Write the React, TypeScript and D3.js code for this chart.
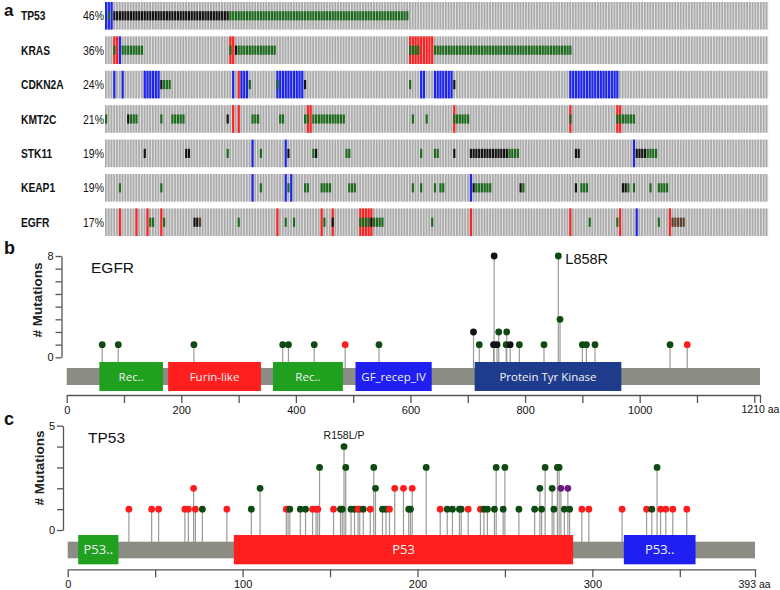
import React, { useRef, useEffect } from 'react';
import * as d3 from 'd3';

// ---- panel a: oncoprint ----
const nSamples = 240;
const genes = ['TP53', 'KRAS', 'CDKN2A', 'KMT2C', 'STK11', 'KEAP1', 'EGFR'];
const geneFreqs = ['46%', '36%', '24%', '21%', '19%', '19%', '17%'];

// runs of altered samples: [first sample, last sample, alteration]
type Run = [number, number, string];
const tp53Alt: Run[] = [[0, 2, 'homdel'], [1, 1, 'missense'], [3, 44, 'truncating'], [45, 109, 'missense']];
const krasAlt: Run[] = [
  [3, 4, 'amp'], [3, 3, 'missense'], [5, 5, 'homdel'], [6, 13, 'missense'],
  [45, 46, 'amp'], [45, 45, 'missense'], [47, 47, 'truncating'], [48, 61, 'missense'],
  [110, 118, 'amp'], [110, 113, 'missense'], [119, 168, 'missense'],
];
const cdkn2aAlt: Run[] = [
  [3, 3, 'homdel'], [6, 6, 'homdel'], [14, 19, 'homdel'], [20, 20, 'truncating'], [21, 23, 'missense'],
  [46, 46, 'homdel'], [48, 48, 'amp'], [49, 51, 'homdel'], [52, 52, 'missense'],
  [62, 71, 'homdel'], [62, 62, 'missense'], [72, 72, 'truncating'],
  [110, 110, 'missense'], [114, 115, 'homdel'], [119, 125, 'homdel'], [126, 126, 'truncating'],
  [168, 185, 'homdel'],
];
const kmt2cAlt: Run[] = [
  [0, 0, 'missense'], [8, 8, 'truncating'], [9, 11, 'missense'], [20, 20, 'missense'], [24, 28, 'missense'],
  [44, 44, 'truncating'], [46, 46, 'amp'], [48, 48, 'amp'], [53, 55, 'missense'], [63, 64, 'missense'],
  [72, 72, 'missense'], [73, 74, 'amp'], [73, 73, 'missense'], [75, 86, 'missense'],
  [111, 111, 'missense'], [116, 116, 'missense'], [126, 126, 'amp'], [126, 131, 'missense'],
  [168, 168, 'amp'], [168, 168, 'missense'], [185, 186, 'amp'], [185, 186, 'missense'], [187, 191, 'missense'],
];
const stk11Alt: Run[] = [
  [14, 14, 'truncating'], [29, 30, 'truncating'], [44, 44, 'missense'], [53, 53, 'homdel'],
  [56, 56, 'missense'], [65, 65, 'homdel'], [66, 66, 'truncating'], [75, 75, 'missense'],
  [76, 76, 'truncating'], [87, 88, 'missense'], [114, 114, 'missense'], [119, 120, 'missense'],
  [126, 126, 'truncating'], [132, 145, 'truncating'], [146, 149, 'missense'], [170, 171, 'truncating'],
  [191, 191, 'homdel'], [192, 195, 'truncating'], [196, 199, 'missense'],
];
const keap1Alt: Run[] = [
  [5, 5, 'missense'], [20, 20, 'missense'], [53, 53, 'homdel'], [56, 56, 'missense'],
  [65, 65, 'homdel'], [66, 66, 'missense'], [67, 67, 'homdel'], [72, 73, 'missense'],
  [78, 81, 'missense'], [88, 90, 'missense'], [111, 111, 'missense'], [114, 114, 'missense'],
  [119, 119, 'missense'], [121, 122, 'missense'], [132, 132, 'homdel'], [133, 133, 'truncating'],
  [134, 139, 'missense'], [150, 150, 'truncating'], [151, 151, 'missense'], [170, 170, 'truncating'],
  [172, 174, 'missense'], [187, 188, 'truncating'], [189, 189, 'missense'], [191, 191, 'missense'],
  [197, 197, 'missense'], [200, 203, 'missense'],
];
const egfrAlt: Run[] = [
  [5, 5, 'amp'], [11, 11, 'amp'], [15, 15, 'amp'], [16, 17, 'missense'], [20, 20, 'amp'],
  [21, 21, 'missense'], [32, 33, 'truncating'], [34, 34, 'inframe'], [48, 48, 'missense'],
  [62, 62, 'amp'], [65, 65, 'missense'], [68, 68, 'missense'], [78, 78, 'amp'], [79, 79, 'missense'],
  [82, 82, 'amp'], [82, 82, 'truncating'], [92, 96, 'amp'], [92, 95, 'missense'], [96, 96, 'truncating'],
  [97, 100, 'missense'], [118, 118, 'missense'], [132, 132, 'amp'], [168, 168, 'amp'],
  [175, 175, 'missense'], [185, 185, 'missense'], [186, 186, 'amp'], [192, 192, 'homdel'],
  [200, 200, 'missense'], [204, 204, 'amp'], [205, 209, 'inframe'],
];
const alterations = [tp53Alt, krasAlt, cdkn2aAlt, kmt2cAlt, stk11Alt, keap1Alt, egfrAlt];

// ---- panels b / c: lollipops, [aa position, # mutations, type] ----
type Mut = [number, number, string];
const egfrMutations: Mut[] = [
  [62, 1, 'missense'], [90, 1, 'missense'], [222, 1, 'missense'], [377, 1, 'missense'],
  [387, 1, 'missense'], [432, 1, 'missense'], [486, 1, 'truncating'], [545, 1, 'missense'],
  [710, 2, 'inframe'], [720, 1, 'missense'], [745, 1, 'inframe'], [746, 8, 'inframe'],
  [751, 1, 'inframe'], [754, 2, 'missense'], [767, 1, 'missense'], [768, 2, 'missense'],
  [774, 1, 'inframe'], [790, 1, 'missense'], [833, 1, 'missense'], [858, 8, 'missense'],
  [861, 3, 'missense'], [900, 1, 'missense'], [907, 1, 'missense'], [922, 1, 'missense'],
  [1053, 1, 'missense'], [1083, 1, 'truncating'],
];
const egfrDomains: [number, number, string][] = [
  [57, 168, 'Rec..'], [177, 339, 'Furin-like'], [360, 482, 'Rec..'],
  [504, 637, 'GF_recep_IV'], [712, 968, 'Protein Tyr Kinase'],
];
const egfrDomainColors = ['#1fa01f', '#ff1f1f', '#1fa01f', '#1f1ff2', '#1f3c8c'];
const egfrTicks = d3.range(0, 1201, 100).concat([1210]);
const egfrTickLabels = [0, 200, 400, 600, 800, 1000, 1210];

const tp53Mutations: Mut[] = [
  [35, 1, 'truncating'], [48, 1, 'truncating'], [52, 1, 'truncating'], [67, 1, 'truncating'],
  [69, 1, 'truncating'], [72, 2, 'truncating'], [73, 1, 'truncating'], [77, 1, 'missense'],
  [91, 1, 'truncating'], [105, 1, 'missense'], [110, 2, 'missense'], [125, 1, 'truncating'],
  [126, 1, 'truncating'], [127, 1, 'missense'], [133, 1, 'missense'], [136, 1, 'missense'],
  [140, 1, 'truncating'], [142, 1, 'truncating'], [143, 1, 'truncating'], [144, 3, 'missense'],
  [152, 1, 'truncating'], [156, 1, 'missense'], [157, 1, 'missense'], [158, 4, 'missense'],
  [159, 3, 'missense'], [162, 1, 'missense'], [164, 1, 'missense'], [166, 1, 'truncating'],
  [167, 1, 'truncating'], [169, 1, 'missense'], [173, 1, 'truncating'], [175, 3, 'missense'],
  [176, 2, 'missense'], [180, 1, 'missense'], [182, 1, 'missense'], [184, 1, 'truncating'],
  [187, 2, 'truncating'], [192, 2, 'truncating'], [195, 1, 'missense'], [196, 1, 'missense'],
  [197, 2, 'truncating'], [205, 3, 'missense'], [213, 1, 'truncating'], [217, 1, 'missense'],
  [220, 1, 'missense'], [224, 1, 'missense'], [225, 1, 'missense'], [229, 1, 'truncating'],
  [236, 1, 'truncating'], [238, 1, 'missense'], [240, 1, 'missense'], [244, 1, 'missense'],
  [245, 3, 'missense'], [249, 1, 'missense'], [250, 3, 'missense'], [258, 1, 'missense'],
  [267, 1, 'missense'], [270, 2, 'missense'], [271, 1, 'missense'], [273, 3, 'missense'],
  [277, 2, 'missense'], [278, 1, 'missense'], [280, 3, 'missense'], [281, 3, 'missense'],
  [282, 2, 'other'], [284, 1, 'missense'], [286, 2, 'other'], [287, 1, 'missense'],
  [294, 1, 'truncating'], [298, 1, 'truncating'], [317, 1, 'truncating'], [331, 1, 'truncating'],
  [334, 1, 'missense'], [337, 3, 'missense'], [339, 1, 'truncating'], [342, 1, 'truncating'],
  [346, 1, 'truncating'], [354, 1, 'truncating'],
];
const tp53Domains: [number, number, string][] = [[6, 29, 'P53..'], [95, 289, 'P53'], [318, 359, 'P53..']];
const tp53DomainColors = ['#1fa01f', '#ff1f1f', '#1f1ff2'];
const tp53Ticks = [0, 50, 100, 150, 200, 250, 300, 350, 393];
const tp53TickLabels = [0, 100, 200, 300, 393];

const altColor: Record<string, string> = {
  amp: '#ff2020', homdel: '#1c24f0', missense: '#1c6a1c', truncating: '#121212', inframe: '#5e3e2c',
};
const dotColor: Record<string, string> = {
  missense: '#0e4a12', truncating: '#ff1c1c', inframe: '#111111', other: '#6c1b7c',
};

const font = "'Liberation Sans', Arial, sans-serif";

function drawLollipop(svg, o) {
  const x = d3.scaleLinear().domain([0, o.length]).range(o.xRange);
  const y = d3.scaleLinear().domain([0, o.yMax]).range(o.yRange);
  const g = svg.append('g');

  const yAxis = g.append('g')
    .attr('transform', `translate(${o.yAxisX},0)`)
    .call(d3.axisLeft(y).tickValues(d3.range(0, o.yMax + 1)).tickSize(6).tickSizeOuter(0).tickPadding(2)
      .tickFormat((d) => (d === 0 || d === o.yMax ? String(d) : '')));
  yAxis.selectAll('path, line').attr('stroke', '#555').attr('stroke-width', 1.3);
  yAxis.selectAll('text').attr('font-family', font).attr('font-size', 11).attr('fill', '#111');

  const xAxis = g.append('g')
    .attr('transform', `translate(0,${o.xAxisY})`)
    .call(d3.axisBottom(x).tickValues(o.ticks).tickSize(8).tickSizeOuter(0).tickPadding(3)
      .tickFormat((d) => (o.tickLabels.includes(d) ? (d === o.length ? `${d} aa` : String(d)) : '')));
  xAxis.selectAll('path, line').attr('stroke', '#555').attr('stroke-width', 1.3);
  xAxis.selectAll('text').attr('font-family', font).attr('font-size', 11).attr('fill', '#111');
  xAxis.selectAll('.tick').filter((d) => d === o.length).select('text')
    .attr('text-anchor', 'start').attr('x', o.lastDx).attr('font-size', 10.5);

  g.append('text')
    .attr('transform', `translate(${o.titleX},${o.titleY}) rotate(-90)`)
    .attr('text-anchor', 'middle')
    .attr('font-family', font).attr('font-weight', 'bold').attr('font-size', 13.5).attr('fill', '#222')
    .text('# Mutations');

  g.append('text').attr('x', o.nameXY[0]).attr('y', o.nameXY[1])
    .attr('font-family', font).attr('font-size', 15.5).attr('fill', '#111').text(o.name);

  g.append('text').attr('x', 4).attr('y', o.letterY)
    .attr('font-family', font).attr('font-weight', 'bold').attr('font-size', 18).attr('fill', '#111')
    .text(o.letter);

  // stems
  g.selectAll('line.stem').data(o.muts).join('line').attr('class', 'stem')
    .attr('x1', (d) => x(d[0])).attr('x2', (d) => x(d[0]))
    .attr('y1', (d) => y(d[1])).attr('y2', o.backbone[0] + 2)
    .attr('stroke', '#9a9a96').attr('stroke-width', 1.2);

  // backbone and domains
  g.append('rect').attr('x', x(0)).attr('width', x(o.length) - x(0))
    .attr('y', o.backbone[0]).attr('height', o.backbone[1] - o.backbone[0]).attr('fill', '#8b8c84');
  g.selectAll('rect.dom').data(o.domains).join('rect').attr('class', 'dom')
    .attr('x', (d) => x(d[0])).attr('width', (d) => x(d[1]) - x(d[0]))
    .attr('y', o.domainBox[0]).attr('height', o.domainBox[1] - o.domainBox[0])
    .attr('fill', (d, i) => o.colors[i]);
  g.selectAll('text.dom').data(o.domains).join('text').attr('class', 'dom')
    .attr('x', (d) => (x(d[0]) + x(d[1])) / 2)
    .attr('y', (o.domainBox[0] + o.domainBox[1]) / 2 + o.domainFont * 0.36)
    .attr('text-anchor', 'middle')
    .attr('font-family', "'Open Sans', sans-serif").attr('font-size', o.domainFont)
    .attr('fill', '#f2f2f2').text((d) => d[2]);

  // heads
  g.selectAll('circle.head').data([...o.muts].sort((a, b) => a[1] - b[1])).join('circle').attr('class', 'head')
    .attr('cx', (d) => x(d[0])).attr('cy', (d) => y(d[1])).attr('r', 3.4)
    .attr('fill', (d) => dotColor[d[2]]);

  if (o.hotspot) {
    const [pos, cnt, label, dx, dy, size] = o.hotspot;
    g.append('text').attr('x', x(pos) + dx).attr('y', y(cnt) + dy)
      .attr('text-anchor', dx === 0 ? 'middle' : 'start')
      .attr('font-family', font).attr('font-size', size).attr('fill', '#111').text(label);
  }
}

const App = () => {
  const svgRef = useRef(null);

  useEffect(() => {
    const svg = d3.select(svgRef.current);
    svg.selectAll('*').remove();

    // ---- a ----
    const xO = d3.scaleBand().domain(d3.range(nSamples)).range([105, 768.3]);
    const yO = d3.scaleBand().domain(genes).range([2, 236]).paddingInner(0.2);
    const bw = xO.bandwidth();
    const rh = yO.bandwidth();

    svg.append('text').attr('x', 4).attr('y', 16)
      .attr('font-family', font).attr('font-weight', 'bold').attr('font-size', 17).attr('fill', '#111')
      .text('a');

    genes.forEach((gene, gi) => {
      const top = yO(gene);
      const row = svg.append('g');
      row.append('rect').attr('x', 105).attr('y', top).attr('width', 768.3 - 105).attr('height', rh)
        .attr('fill', '#e2e2e2');
      row.selectAll('rect.bg').data(d3.range(nSamples)).join('rect').attr('class', 'bg')
        .attr('x', (d) => xO(d)).attr('y', top).attr('width', bw * 0.64).attr('height', rh)
        .attr('fill', '#ababab');

      const cells = alterations[gi].flatMap(([a, b, t]) => d3.range(a, b + 1).map((s) => [s, t]));
      const full = cells.filter((c) => c[1] === 'amp' || c[1] === 'homdel');
      const muts = cells.filter((c) => c[1] !== 'amp' && c[1] !== 'homdel');
      row.selectAll('rect.cna').data(full).join('rect').attr('class', 'cna')
        .attr('x', (d) => xO(d[0])).attr('y', top).attr('width', bw * 0.78).attr('height', rh)
        .attr('fill', (d) => altColor[d[1]]);
      row.selectAll('rect.mut').data(muts).join('rect').attr('class', 'mut')
        .attr('x', (d) => xO(d[0])).attr('y', top + rh / 3).attr('width', bw * 0.78).attr('height', rh / 3)
        .attr('fill', (d) => altColor[d[1]]);

      // condensed look: squeeze the labels horizontally
      const ty = top + rh / 2 + 4.5;
      row.append('text').attr('transform', `translate(21,${ty}) scale(0.82,1)`)
        .attr('font-family', font).attr('font-weight', 'bold').attr('font-size', 12.5).attr('fill', '#111')
        .text(gene);
      row.append('text').attr('transform', `translate(83,${ty}) scale(0.84,1)`)
        .attr('font-family', font).attr('font-size', 12.5).attr('fill', '#111')
        .text(geneFreqs[gi]);
    });

    // ---- b ----
    drawLollipop(svg, {
      muts: egfrMutations, domains: egfrDomains, colors: egfrDomainColors,
      length: 1210, xRange: [66.7, 760], yMax: 8, yRange: [357.3, 256], yAxisX: 61.5,
      backbone: [368, 385], domainBox: [362, 391], xAxisY: 395,
      ticks: egfrTicks, tickLabels: egfrTickLabels, lastDx: -19,
      titleX: 42, titleY: 300, name: 'EGFR', nameXY: [91, 273], letter: 'b', letterY: 254,
      domainFont: 11.5, hotspot: [858, 8, 'L858R', 7, 8, 14.5],
    });

    // ---- c ----
    drawLollipop(svg, {
      muts: tp53Mutations, domains: tp53Domains, colors: tp53DomainColors,
      length: 393, xRange: [67.7, 755], yMax: 5, yRange: [530, 425.7], yAxisX: 63,
      backbone: [541.7, 558.3], domainBox: [535, 564.3], xAxisY: 569.3,
      ticks: tp53Ticks, tickLabels: tp53TickLabels, lastDx: -17,
      titleX: 44, titleY: 468, name: 'TP53', nameXY: [88, 443], letter: 'c', letterY: 425,
      domainFont: 13, hotspot: [158, 4, 'R158L/P', 0, -8, 10.5],
    });
  }, []);

  return (
    <svg
      ref={svgRef}
      width={780}
      height={590}
      style={{ position: 'absolute', left: 0, top: 0, background: '#fff' }}
    />
  );
};

export default App;
